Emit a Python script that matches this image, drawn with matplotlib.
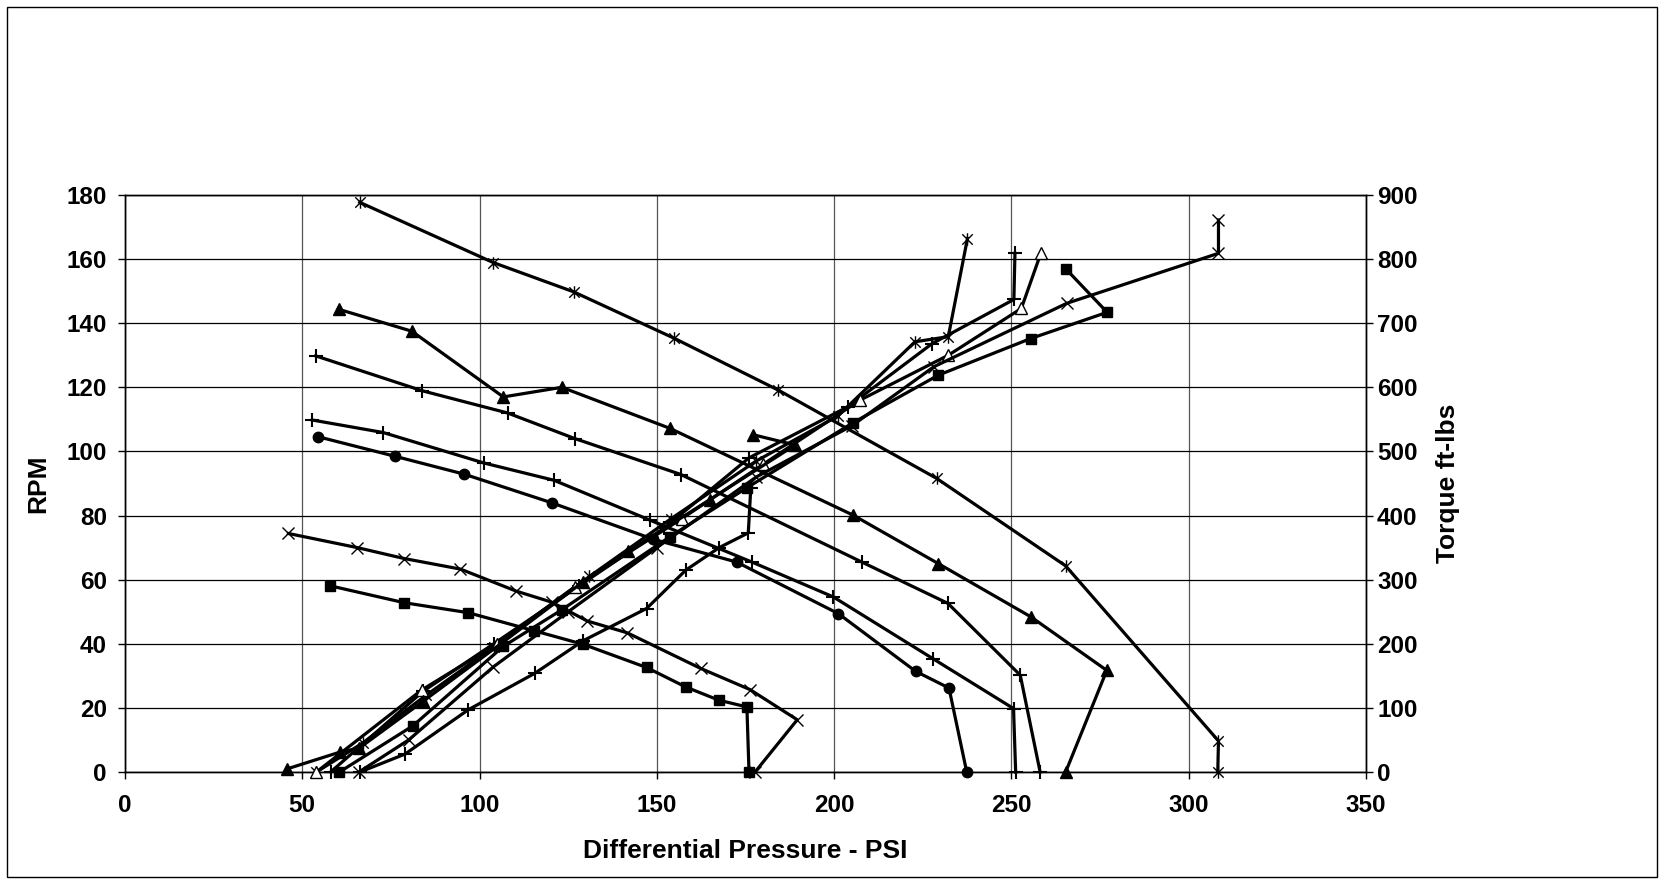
import matplotlib
matplotlib.use("Agg")
import matplotlib.pyplot as plt
from matplotlib.path import Path
from matplotlib.patches import Rectangle

plt.rcParams['font.family'] = ['Liberation Sans', 'DejaVu Sans']

# ---------------- RPM series (left axis) ----------------
rpm_star_x = [66.2, 103.9, 126.5, 154.9, 184.3, 228.9, 265.3, 308.4, 308.2]
rpm_star_y = [177.7, 158.9, 149.8, 135.3, 119.1, 91.6, 64.3, 9.7, 0]

rpm_tri_x = [60.4, 80.9, 106.7, 123.2, 153.7, 205.4, 229.4, 255.5, 276.9, 265.3]
rpm_tri_y = [144.3, 137.5, 117.0, 120.0, 107.2, 80.1, 65.0, 48.4, 31.7, 0]

rpm_plusA_x = [53.8, 83.9, 107.9, 126.9, 156.8, 207.8, 232.1, 252.5, 258.1]
rpm_plusA_y = [129.8, 118.9, 112.0, 104.0, 92.8, 65.5, 52.6, 30.2, 0]

rpm_plusB_x = [52.8, 72.8, 101.2, 121.0, 148.0, 176.8, 199.8, 227.8, 250.6, 251.2]
rpm_plusB_y = [109.8, 105.9, 96.4, 91.0, 78.6, 65.5, 54.6, 35.4, 19.8, 0]

rpm_circ_x = [54.4, 76.1, 95.7, 120.3, 149.0, 172.5, 201.2, 223.0, 232.4, 237.4]
rpm_circ_y = [104.6, 98.5, 92.9, 84.0, 72.6, 65.5, 49.4, 31.4, 26.2, 0]

rpm_x_x = [46.1, 65.5, 78.7, 94.6, 110.4, 120.3, 130.4, 141.7, 162.4, 176.3, 189.6, 177.7]
rpm_x_y = [74.4, 70.0, 66.6, 63.3, 56.4, 53.0, 47.1, 43.4, 32.3, 25.7, 16.3, 0]

rpm_sq_x = [57.8, 78.8, 96.8, 115.3, 129.3, 147.1, 158.2, 167.5, 175.4, 176.0]
rpm_sq_y = [58.1, 52.8, 49.7, 44.1, 39.8, 32.6, 26.5, 22.4, 20.3, 0]

# ---------------- Torque series (right axis) ----------------
tq_star_x = [54, 67, 85, 104, 131, 154, 178, 201, 222.8, 232.2, 237.6]
tq_star_y = [0, 45, 120, 195, 305, 395, 485, 555, 671, 679, 832]

tq_plus_x = [58, 84.1, 104, 128, 152, 176, 204, 227.6, 250.7, 251.0]
tq_plus_y = [0, 126, 200, 290, 380, 490, 570, 668, 737, 809]

tq_otri_x = [54, 83.7, 105, 126.9, 157, 180, 207.3, 232.2, 252.8, 258.3]
tq_otri_y = [0, 128, 200, 289, 395, 480, 580, 650, 723, 809]

tq_x_x = [66, 80, 103.9, 125, 150, 178, 205, 228.1, 265.6, 308.4, 308.4]
tq_x_y = [0, 50, 164, 250, 350, 460, 540, 632, 731, 809, 861]

tq_sq_x = [60.5, 81.2, 106.7, 123.2, 153.7, 175.3, 205.4, 229.4, 255.4, 277.0, 265.3]
tq_sq_y = [0, 72, 196, 253, 367, 443, 545, 619, 676, 717, 785]

tq_low_x = [66.3, 79.0, 96.8, 115.6, 129.3, 147.1, 158.2, 167.6, 175.8, 176.5]
tq_low_y = [0, 28, 97, 154, 205, 255, 315, 350, 373, 443]

tq_tri_x = [45.8, 60.6, 66, 84, 106, 129.3, 142, 165, 189, 177.2]
tq_tri_y = [5, 31, 37, 110, 200, 297, 344, 425, 510, 526]

x_ticks = [0, 50, 100, 150, 200, 250, 300, 350]
rpm_ticks = [0, 20, 40, 60, 80, 100, 120, 140, 160, 180]
tq_ticks = [0, 100, 200, 300, 400, 500, 600, 700, 800, 900]

# Excel-style star marker: x with a vertical bar
star_marker = Path([(-1, -1), (1, 1), (-1, 1), (1, -1), (0, -1.2), (0, 1.2)],
                   [Path.MOVETO, Path.LINETO, Path.MOVETO, Path.LINETO, Path.MOVETO, Path.LINETO])

fig = plt.figure(figsize=(16.64, 8.83), dpi=100)
ax = fig.add_axes([0.0751, 0.1257, 0.7458, 0.6535])
ax2 = ax.twinx()

LW = 2.3
common = dict(color='black', lw=LW, clip_on=False, zorder=3)

def draw(a, x, y, marker, ms, filled=True, mew=1.0):
    a.plot(x, y, marker=marker, ms=ms, mfc='black' if filled else 'white',
           mec='black', mew=mew, **common)

# RPM
draw(ax, rpm_star_x, rpm_star_y, star_marker, 9, mew=1.0)
draw(ax, rpm_tri_x, rpm_tri_y, '^', 8)
draw(ax, rpm_plusA_x, rpm_plusA_y, '+', 10, mew=1.5)
draw(ax, rpm_plusB_x, rpm_plusB_y, '+', 10, mew=1.5)
draw(ax, rpm_circ_x, rpm_circ_y, 'o', 7.5)
draw(ax, rpm_x_x, rpm_x_y, 'x', 9, mew=1.0)
draw(ax, rpm_sq_x, rpm_sq_y, 's', 7.5)

# Torque
draw(ax2, tq_star_x, tq_star_y, star_marker, 9, mew=1.0)
draw(ax2, tq_plus_x, tq_plus_y, '+', 10, mew=1.5)
draw(ax2, tq_otri_x, tq_otri_y, '^', 8, filled=False)
draw(ax2, tq_x_x, tq_x_y, 'x', 9, mew=1.0)
draw(ax2, tq_sq_x, tq_sq_y, 's', 7.5)
draw(ax2, tq_low_x, tq_low_y, '+', 10, mew=1.5)
draw(ax2, tq_tri_x, tq_tri_y, '^', 8)

ax.set_xlim(0, 350)
ax.set_ylim(0, 180)
ax2.set_ylim(0, 900)
ax.set_xticks(x_ticks)
ax.set_yticks(rpm_ticks)
ax2.set_yticks(tq_ticks)

ax.grid(True, axis='y', color='black', lw=0.9, zorder=0)
ax.grid(True, axis='x', color='#555555', lw=0.9, zorder=0)
ax.set_axisbelow(True)

for a in (ax, ax2):
    for s in a.spines.values():
        s.set_color('black')
        s.set_linewidth(1.0)

TS = 17.5
ax.tick_params(axis='x', direction='out', length=5, width=1, labelsize=TS, pad=11)
ax.tick_params(axis='y', direction='out', length=5, width=1, labelsize=TS, pad=8)
ax2.tick_params(axis='y', direction='out', length=5, width=1, labelsize=TS, pad=3)
for lab in ax.get_xticklabels() + ax.get_yticklabels() + ax2.get_yticklabels():
    lab.set_fontweight('bold')

LS = 19
ax.set_xlabel('Differential Pressure - PSI', fontsize=LS, fontweight='bold', labelpad=16)
ax.set_ylabel('RPM', fontsize=LS, fontweight='bold', labelpad=12)
ax2.set_ylabel('Torque ft-lbs', fontsize=LS, fontweight='bold', labelpad=13)

# outer chart border
fig.patches.append(Rectangle((0.0045, 0.007), 0.991, 0.985, transform=fig.transFigure,
                             fill=False, edgecolor='black', lw=1.0))

fig.savefig('out.png', dpi=100)
